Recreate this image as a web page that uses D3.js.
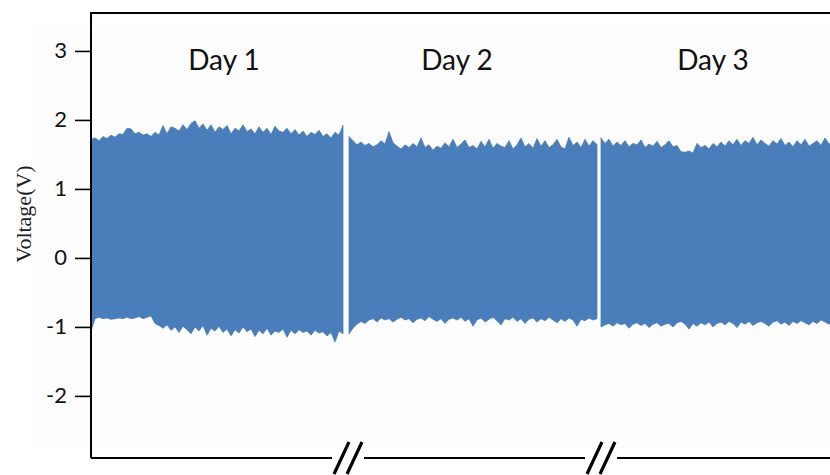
<!DOCTYPE html>
<html>
<head>
<meta charset="utf-8">
<script src="https://cdn.jsdelivr.net/npm/d3@7"></script>
<style>
html,body{margin:0;padding:0;background:#fff;}
svg{display:block;}
</style>
</head>
<body>
<svg id="chart" width="830" height="475"></svg>
<script>
// ---- data ----
const dayLabels = ["Day 1", "Day 2", "Day 3"];
const dayStart = [0, 64.5, 127.5];           // sample index where each day's record begins
const yTicks = [-2, -1, 0, 1, 2, 3];
const yTickLabels = ["-2", "-1", "0", "1", "2", "3"];
const yLabel = "Voltage(V)";

const day1Max = [1.72,1.74,1.70,1.76,1.73,1.78,1.75,1.80,
  1.79,1.88,1.87,1.80,1.82,1.78,1.80,1.76,1.82,1.78,
  1.92,1.80,1.90,1.88,1.84,1.93,1.86,1.95,
  1.99,1.88,1.94,1.85,1.93,1.82,1.90,1.86,
  1.92,1.80,1.88,1.84,1.93,1.83,1.87,1.80,
  1.90,1.82,1.88,1.79,1.91,1.84,1.82,1.88,
  1.80,1.86,1.78,1.84,1.76,1.82,1.79,1.85,
  1.76,1.80,1.74,1.82,1.78,1.92];
const day1Min = [-1.06,-0.88,-0.86,-0.88,-0.87,-0.89,-0.88,-0.87,
  -0.88,-0.86,-0.88,-0.87,-0.85,-0.88,-0.86,-0.84,-0.95,-0.98,
  -1.02,-0.97,-1.05,-1.00,-1.08,-0.99,-1.04,-1.10,
  -1.00,-1.06,-0.98,-1.12,-1.02,-1.06,-0.99,-1.08,
  -1.03,-1.13,-1.04,-1.09,-1.00,-1.07,-1.03,-1.14,
  -1.05,-1.10,-1.02,-1.12,-1.06,-1.08,-1.03,-1.15,
  -1.05,-1.10,-1.04,-1.08,-1.06,-1.12,-1.05,-1.09,
  -1.07,-1.13,-1.08,-1.22,-1.06,-1.10];

const day2Max = [1.76,1.70,1.64,1.68,1.63,1.66,1.61,1.64,1.70,1.65,
  1.83,1.67,1.62,1.58,1.64,1.60,1.66,1.61,1.74,1.60,
  1.64,1.56,1.62,1.59,1.67,1.61,1.72,1.60,1.65,1.71,
  1.60,1.63,1.58,1.69,1.61,1.72,1.59,1.66,1.62,1.60,
  1.70,1.58,1.64,1.74,1.61,1.66,1.59,1.73,1.62,1.70,
  1.60,1.64,1.72,1.61,1.58,1.75,1.63,1.68,1.60,1.72,
  1.62,1.70,1.64];
const day2Min = [-1.10,-1.02,-0.96,-0.92,-0.95,-0.90,-0.88,-0.93,-0.87,-0.90,
  -0.88,-0.93,-0.89,-0.86,-0.90,-0.88,-0.94,-0.89,-0.87,-0.91,
  -0.85,-0.89,-0.92,-0.88,-0.95,-0.89,-0.87,-0.90,-0.86,-0.92,
  -0.88,-0.99,-0.90,-0.87,-0.93,-0.89,-0.86,-0.91,-0.97,-0.88,
  -0.90,-0.86,-0.92,-0.88,-0.95,-0.89,-0.87,-0.93,-0.88,-0.91,
  -0.86,-0.90,-0.94,-0.88,-0.92,-0.87,-0.90,-0.99,-0.89,-0.91,
  -0.87,-0.90,-0.88];

const day3Max = [1.74,1.66,1.72,1.62,1.68,1.63,1.70,1.61,1.66,1.64,
  1.71,1.60,1.65,1.62,1.69,1.60,1.64,1.70,1.61,1.63,
  1.54,1.53,1.55,1.52,1.66,1.60,1.63,1.58,1.66,1.61,
  1.68,1.62,1.70,1.64,1.72,1.63,1.70,1.66,1.75,1.64,
  1.71,1.66,1.62,1.70,1.65,1.73,1.63,1.68,1.61,1.70,
  1.64,1.72,1.62,1.66,1.70,1.63,1.74,1.65,1.68];
const day3Min = [-1.00,-0.97,-0.95,-0.99,-0.94,-0.97,-0.95,-1.02,-0.96,-0.94,
  -0.98,-0.95,-1.01,-0.96,-0.94,-0.99,-0.96,-0.95,-1.00,-0.94,
  -0.92,-0.96,-1.03,-0.95,-0.99,-0.94,-0.97,-0.93,-1.00,-0.95,
  -0.93,-0.97,-0.92,-0.95,-1.01,-0.93,-0.96,-0.92,-0.98,-0.94,
  -0.92,-0.95,-0.99,-0.93,-0.91,-0.96,-0.93,-0.98,-0.92,-0.95,
  -0.91,-0.94,-0.97,-0.92,-0.95,-0.90,-0.93,-0.96,-0.92];

const dayMax = [day1Max, day2Max, day3Max];
const dayMin = [day1Min, day2Min, day3Min];

// ---- layout ----
const mLeft = 91, mRight = 830, mTop = 13, mBottom = 458;
const color = "#4a7ebb";

const svg = d3.select("#chart");

// very faint plot backdrop
svg.append("rect").attr("x", 31).attr("y", 29).attr("width", 800).attr("height", 413)
  .attr("fill", "#fdfdfd");

const x = d3.scaleLinear().domain([0, 185]).range([mLeft, mLeft + 185 * 4]);
const y = d3.scaleLinear().domain([-2.9, 3.55]).range([mBottom, mTop]);

svg.append("defs").append("clipPath").attr("id", "clip")
  .append("rect").attr("x", mLeft).attr("y", mTop).attr("width", mRight - mLeft).attr("height", mBottom - mTop);

const area = d3.area()
  .x(d => x(d.i))
  .y0(d => y(d.lo))
  .y1(d => y(d.hi))
  .curve(d3.curveLinear);

const g = svg.append("g").attr("clip-path", "url(#clip)");
dayMax.forEach((arr, k) => {
  const pts = arr.map((v, j) => ({ i: dayStart[k] + j, hi: v, lo: dayMin[k][j] }));
  g.append("path").datum(pts).attr("d", area)
    .attr("fill", color).attr("stroke", color).attr("stroke-width", 0.8)
    .attr("stroke-linejoin", "miter");
});

// day labels
const labelX = [224, 457, 713];
svg.selectAll("text.day").data(dayLabels).enter().append("text")
  .attr("class", "day")
  .attr("x", (d, k) => labelX[k])
  .attr("y", 70)
  .attr("text-anchor", "middle")
  .attr("font-family", "Lato, 'Open Sans', sans-serif")
  .attr("font-size", 28)
  .attr("fill", "#111")
  .text(d => d);

// y axis
const yAxis = d3.axisLeft(y).tickValues(yTicks)
  .tickFormat((d, i) => yTickLabels[i])
  .tickSize(16).tickPadding(8);
const ya = svg.append("g").attr("transform", `translate(${mLeft},0)`).call(yAxis);
ya.select(".domain").remove();
ya.selectAll(".tick line").attr("stroke", "#000").attr("stroke-width", 1.6);
ya.selectAll(".tick text").attr("font-family", "Lato, 'Open Sans', sans-serif")
  .attr("font-size", 22).attr("fill", "#111");

// left axis line + top border
svg.append("path")
  .attr("d", `M${mLeft},${mBottom}V${mTop}H${mRight}`)
  .attr("fill", "none").attr("stroke", "#000").attr("stroke-width", 2);

// bottom axis with break marks
const breaks = [1, 2].map(k => (x(dayStart[k - 1] + dayMax[k - 1].length - 1) + x(dayStart[k])) / 2 + 2);
const half = 16;
let segs = [];
let cur = mLeft;
breaks.forEach(c => { segs.push([cur, c - half]); cur = c + half; });
segs.push([cur, mRight]);
svg.selectAll("line.xaxis").data(segs).enter().append("line")
  .attr("class", "xaxis")
  .attr("x1", d => d[0]).attr("x2", d => d[1])
  .attr("y1", mBottom).attr("y2", mBottom)
  .attr("stroke", "#000").attr("stroke-width", 2);
breaks.forEach(c => {
  [[-14, 1], [-1, 14]].forEach(([a, b]) => {
    svg.append("line")
      .attr("x1", c + a).attr("y1", 474)
      .attr("x2", c + b).attr("y2", 442)
      .attr("stroke", "#000").attr("stroke-width", 3.2);
  });
});

// y label
svg.append("text")
  .attr("transform", "translate(31,214) rotate(-90)")
  .attr("text-anchor", "middle")
  .attr("font-family", "'Liberation Serif', 'Times New Roman', serif")
  .attr("font-size", 22)
  .attr("fill", "#222")
  .text(yLabel);
</script>
</body>
</html>
